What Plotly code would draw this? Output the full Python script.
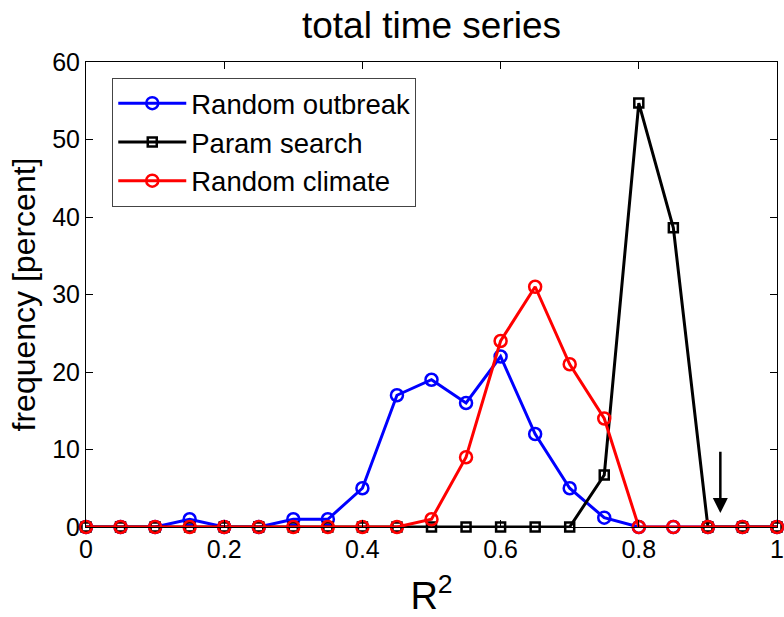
import plotly.graph_objects as go

r2 = [0, 0.05, 0.1, 0.15, 0.2, 0.25, 0.3, 0.35, 0.4, 0.45, 0.5, 0.55, 0.6, 0.65, 0.7, 0.75, 0.8, 0.85, 0.9, 0.95, 1.0]
random_outbreak = [0, 0, 0, 1, 0, 0, 1, 1, 5, 17, 19, 16, 22, 12, 5, 1.2, 0, 0, 0, 0, 0]
param_search = [0, 0, 0, 0, 0, 0, 0, 0, 0, 0, 0, 0, 0, 0, 0, 6.7, 54.7, 38.6, 0, 0, 0]
random_climate = [0, 0, 0, 0, 0, 0, 0, 0, 0, 0, 1, 9, 24, 31, 21, 14, 0, 0, 0, 0, 0]
arrow_x = 0.918
arrow_top = 9.9
arrow_tip = 1.8

fig = go.Figure()
fig.add_trace(go.Scatter(x=r2, y=random_outbreak, mode="lines+markers", name="Random outbreak",
                         line=dict(color="#0000ff", width=3),
                         marker=dict(symbol="circle-open", size=12, color="#0000ff", line=dict(width=2.5)),
                         cliponaxis=False))
fig.add_trace(go.Scatter(x=r2, y=param_search, mode="lines+markers", name="Param search",
                         line=dict(color="#000000", width=3),
                         marker=dict(symbol="square-open", size=9, color="#000000", line=dict(width=2.5)),
                         cliponaxis=False))
fig.add_trace(go.Scatter(x=r2, y=random_climate, mode="lines+markers", name="Random climate",
                         line=dict(color="#ff0000", width=3),
                         marker=dict(symbol="circle-open", size=12, color="#ff0000", line=dict(width=2.5)),
                         cliponaxis=False))

fig.add_annotation(x=arrow_x, y=arrow_tip, ax=arrow_x, ay=arrow_top, xref="x", yref="y",
                   axref="x", ayref="y", text="", showarrow=True, arrowhead=2, arrowsize=1.2,
                   arrowwidth=2.5, arrowcolor="black")

font = "Liberation Sans, Arial, sans-serif"
fig.update_layout(
    width=784, height=617,
    margin=dict(l=86, r=7, t=62, b=90),
    paper_bgcolor="white", plot_bgcolor="white",
    font=dict(family=font, size=25, color="black"),
    title=dict(text="total time series", x=0.5, xanchor="center", xref="paper",
               y=1 - 25 / 617, yanchor="middle", yref="container",
               font=dict(size=37, family=font)),
    showlegend=True,
    legend=dict(x=0.038, y=0.966, xanchor="left", yanchor="top",
                bordercolor="#444", borderwidth=1, bgcolor="white",
                font=dict(size=27.5, family=font), tracegroupgap=0, itemwidth=68),
    xaxis=dict(range=[0, 1], tickvals=[0, 0.2, 0.4, 0.6, 0.8, 1],
               ticktext=["0", "0.2", "0.4", "0.6", "0.8", "1"], automargin=False,
               ticks="inside", ticklen=7, tickcolor="black", showgrid=False, zeroline=False,
               showline=True, linecolor="black", linewidth=1, mirror="ticks",
               title=dict(text="R<sup>2</sup>", font=dict(size=38, family=font), standoff=22),
               tickfont=dict(size=25)),
    yaxis=dict(range=[0, 60], tickvals=[0, 10, 20, 30, 40, 50, 60], automargin=False,
               ticks="inside", ticklen=7, tickcolor="black", showgrid=False, zeroline=False,
               showline=True, linecolor="black", linewidth=1, mirror="ticks",
               title=dict(text="frequency [percent]", font=dict(size=32, family=font), standoff=6),
               tickfont=dict(size=25)),
)

fig.write_html("out.html", config={"displayModeBar": False},
               post_script="document.body.style.margin='0';")
